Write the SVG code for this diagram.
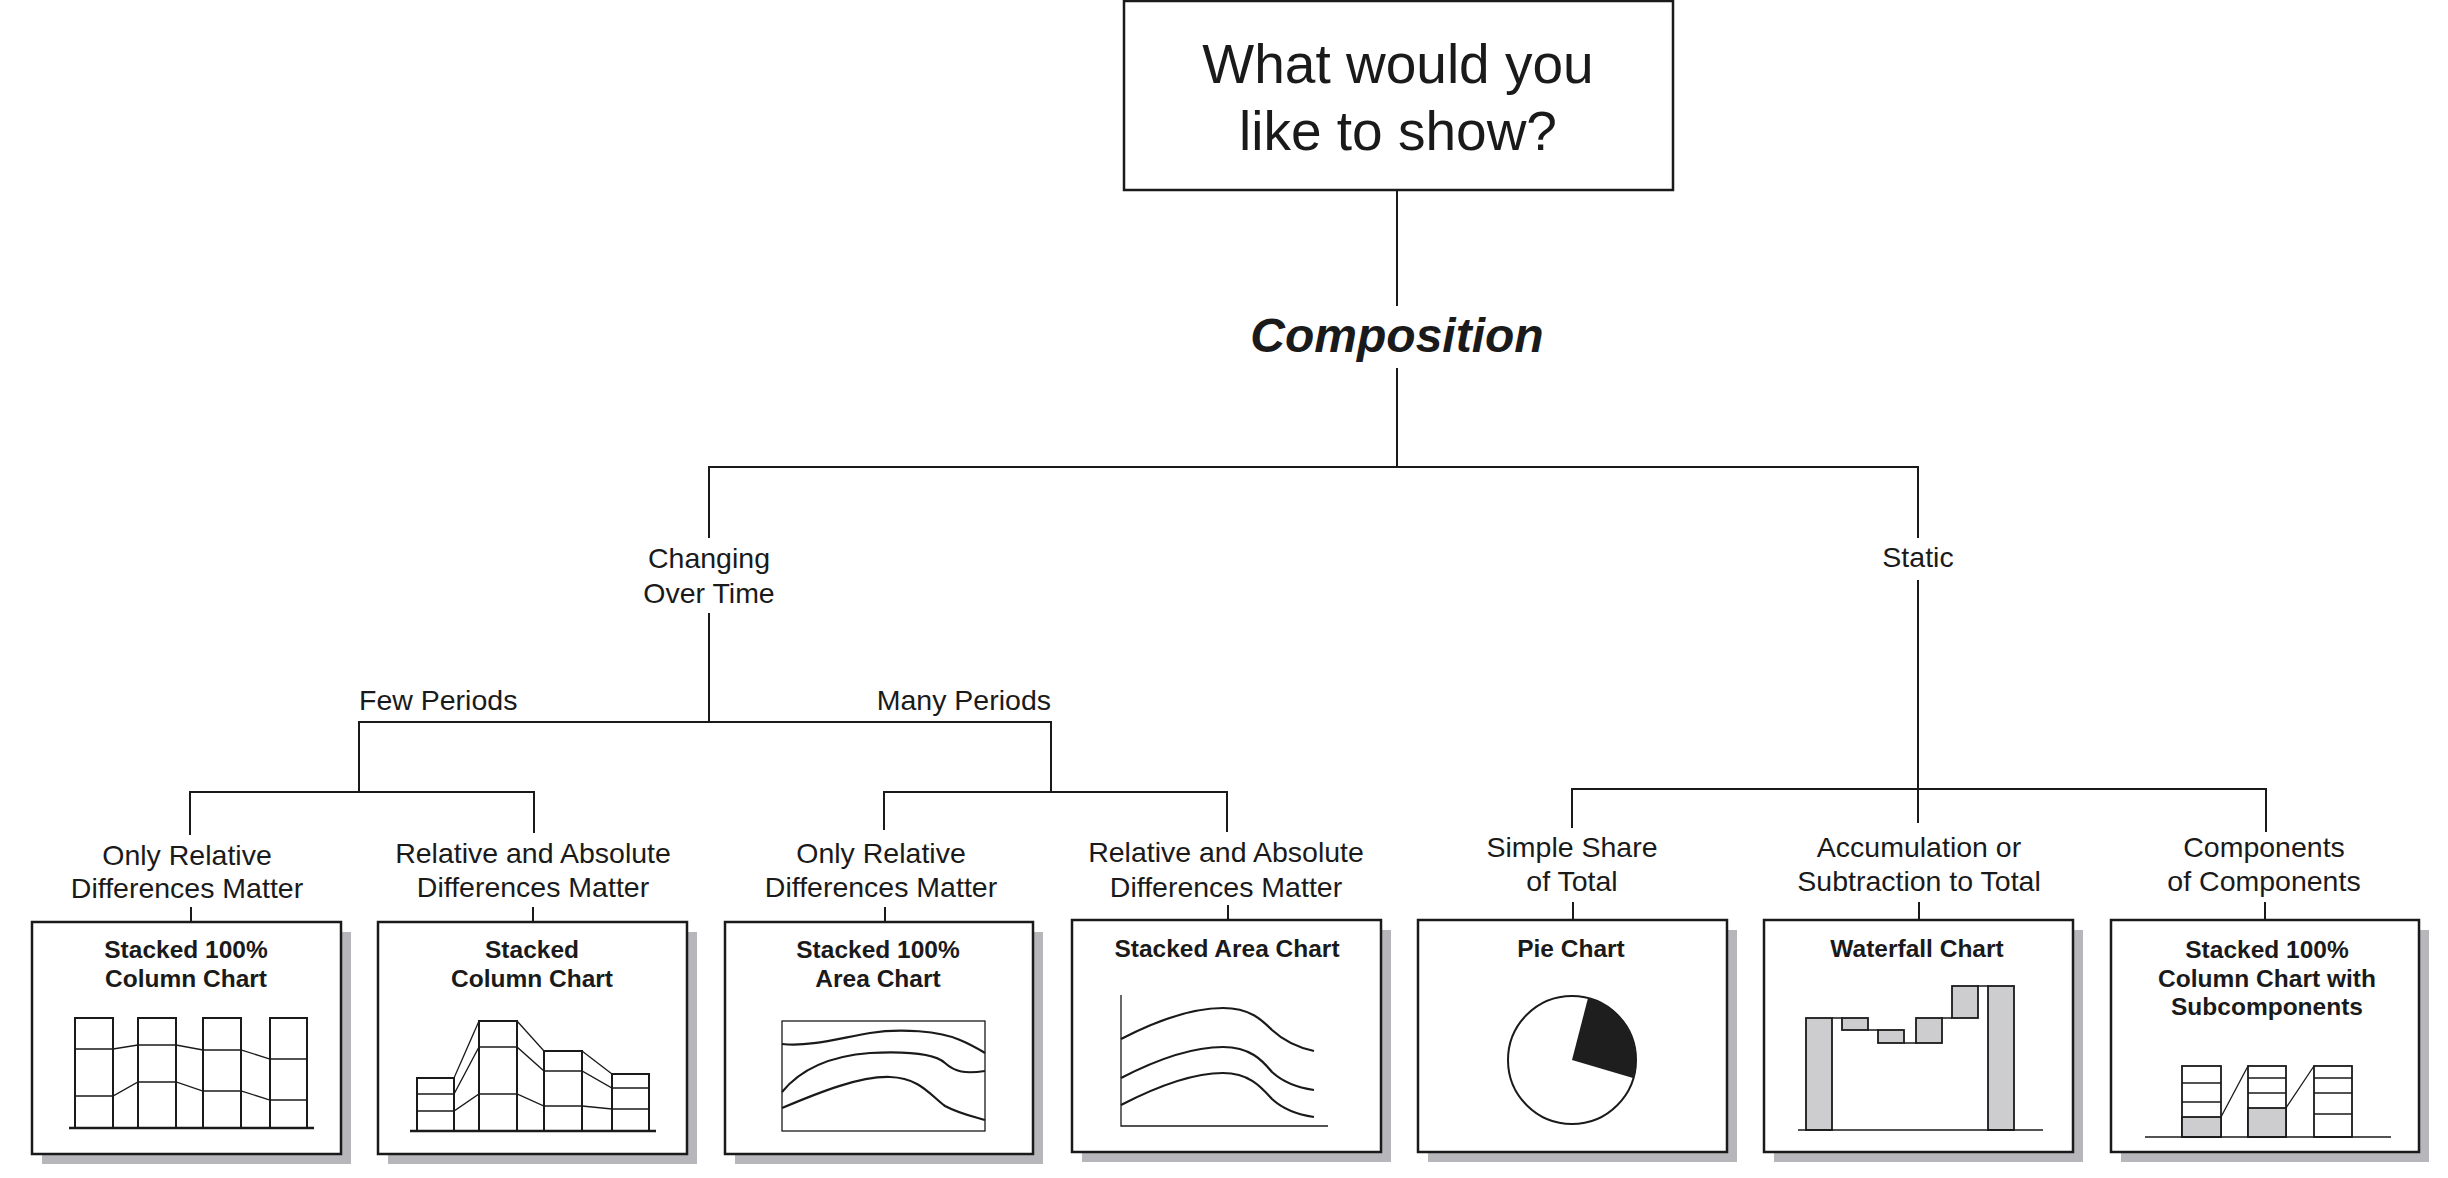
<svg xmlns="http://www.w3.org/2000/svg" width="2448" height="1178" viewBox="0 0 2448 1178">
<style>
text{font-family:"Liberation Sans",Arial,Helvetica,sans-serif;fill:#1a1a1a;text-anchor:middle}
.lbl{font-size:28.5px}
.ttl{font-size:24.5px;font-weight:bold}
.head{font-size:55px}
.comp{font-size:48px;font-weight:bold;font-style:italic}
.conn line{stroke:#1a1a1a;stroke-width:2}
.box{fill:#fff;stroke:#1a1a1a;stroke-width:2.5}
.shadow{fill:#b7b7bb}
.ch{fill:none;stroke:#1a1a1a;stroke-width:2}
.thin{fill:none;stroke:#1a1a1a;stroke-width:1.3}
.cv{fill:none;stroke:#1a1a1a;stroke-width:2.2}
.gr{fill:#cdcdd0;stroke:#1a1a1a;stroke-width:1.8}
.wh{fill:#fff;stroke:#1a1a1a;stroke-width:1.8}
.axis{stroke:#1a1a1a;stroke-width:2.5}
</style>
<rect width="2448" height="1178" fill="#fff"/>

<g id="connectors" class="conn">
<line x1="1397" y1="190" x2="1397" y2="306"/>
<line x1="1397" y1="368" x2="1397" y2="467"/>
<line x1="708" y1="467" x2="1919" y2="467"/>
<line x1="709" y1="467" x2="709" y2="538"/>
<line x1="1918" y1="467" x2="1918" y2="538"/>
<line x1="709" y1="613" x2="709" y2="722"/>
<line x1="358" y1="722" x2="1052" y2="722"/>
<line x1="359" y1="722" x2="359" y2="792"/>
<line x1="1051" y1="722" x2="1051" y2="792"/>
<line x1="189" y1="792" x2="535" y2="792"/>
<line x1="190" y1="792" x2="190" y2="835"/>
<line x1="534" y1="792" x2="534" y2="833"/>
<line x1="883" y1="792" x2="1228" y2="792"/>
<line x1="884" y1="792" x2="884" y2="830"/>
<line x1="1227" y1="792" x2="1227" y2="832"/>
<line x1="1918" y1="580" x2="1918" y2="823"/>
<line x1="1571" y1="789" x2="2267" y2="789"/>
<line x1="1572" y1="789" x2="1572" y2="828"/>
<line x1="2266" y1="789" x2="2266" y2="832"/>
<line x1="191" y1="907" x2="191" y2="922"/>
<line x1="533" y1="907" x2="533" y2="922"/>
<line x1="885" y1="907" x2="885" y2="922"/>
<line x1="1228" y1="905" x2="1228" y2="920"/>
<line x1="1573" y1="902" x2="1573" y2="920"/>
<line x1="1919" y1="902" x2="1919" y2="920"/>
<line x1="2265" y1="902" x2="2265" y2="920"/>
</g>

<g id="root">
<rect class="box" x="1124" y="1" width="549" height="189" stroke-width="2"/>
<text class="head" x="1398" y="83">What would you</text>
<text class="head" x="1398" y="150">like to show?</text>
</g>

<g id="composition">
<text class="comp" x="1397" y="352">Composition</text>
</g>

<g id="changing">
<text class="lbl" x="709" y="568">Changing</text>
<text class="lbl" x="709" y="603">Over Time</text>
</g>

<g id="static">
<text class="lbl" x="1918" y="567">Static</text>
</g>

<g id="few-periods">
<text class="lbl" x="359" y="710" style="text-anchor:start">Few Periods</text>
</g>

<g id="many-periods">
<text class="lbl" x="1051" y="710" style="text-anchor:end">Many Periods</text>
</g>

<g id="stacked100-column">
<text class="lbl" x="187" y="865">Only Relative</text>
<text class="lbl" x="187" y="898">Differences Matter</text>
<rect class="shadow" x="42" y="932" width="309" height="232"/>
<rect class="box" x="32" y="922" width="309" height="232"/>
<text class="ttl" x="186" y="958">Stacked 100%</text>
<text class="ttl" x="186" y="987">Column Chart</text>
<rect class="ch" x="75" y="1018" width="38" height="110"/>
<rect class="ch" x="138" y="1018" width="38" height="110"/>
<rect class="ch" x="203" y="1018" width="38" height="110"/>
<rect class="ch" x="270" y="1018" width="37" height="110"/>
<polyline class="thin" points="75,1049 113,1049 138,1045 176,1045 203,1050 241,1050 270,1059 307,1059"/>
<polyline class="thin" points="75,1096 113,1096 138,1082 176,1082 203,1091 241,1091 270,1100 307,1100"/>
<line class="axis" x1="69" y1="1128" x2="314" y2="1128"/>
</g>

<g id="stacked-column">
<text class="lbl" x="533" y="863">Relative and Absolute</text>
<text class="lbl" x="533" y="897">Differences Matter</text>
<rect class="shadow" x="388" y="932" width="309" height="232"/>
<rect class="box" x="378" y="922" width="309" height="232"/>
<text class="ttl" x="532" y="958">Stacked</text>
<text class="ttl" x="532" y="987">Column Chart</text>
<rect class="ch" x="417" y="1078" width="37" height="53"/>
<rect class="ch" x="479" y="1021" width="38" height="110"/>
<rect class="ch" x="544" y="1051" width="38" height="80"/>
<rect class="ch" x="612" y="1074" width="37" height="57"/>
<polyline class="thin" points="454,1078 479,1021"/>
<polyline class="thin" points="517,1021 544,1051"/>
<polyline class="thin" points="582,1051 612,1074"/>
<polyline class="thin" points="417,1094 454,1094 479,1047 517,1047 544,1071 582,1071 612,1088 649,1088"/>
<polyline class="thin" points="417,1111 454,1111 479,1094 517,1094 544,1106 582,1106 612,1109 649,1109"/>
<line class="axis" x1="410" y1="1131" x2="656" y2="1131"/>
</g>

<g id="stacked100-area">
<text class="lbl" x="881" y="863">Only Relative</text>
<text class="lbl" x="881" y="897">Differences Matter</text>
<rect class="shadow" x="735" y="932" width="308" height="232"/>
<rect class="box" x="725" y="922" width="308" height="232"/>
<text class="ttl" x="878" y="958">Stacked 100%</text>
<text class="ttl" x="878" y="987">Area Chart</text>
<rect class="thin" x="782" y="1021" width="203" height="110"/>
<path class="cv" d="M782,1044 C810,1047 840,1038 870,1033 C900,1028 940,1031 960,1040 C972,1045 980,1050 985,1053"/>
<path class="cv" d="M782,1092 C800,1070 830,1056 870,1053 C910,1051 935,1054 945,1063 C955,1072 965,1074 985,1071"/>
<path class="cv" d="M782,1108 C820,1092 860,1076 890,1077 C920,1078 930,1095 945,1106 C960,1114 975,1117 985,1120"/>
</g>

<g id="stacked-area">
<text class="lbl" x="1226" y="862">Relative and Absolute</text>
<text class="lbl" x="1226" y="897">Differences Matter</text>
<rect class="shadow" x="1082" y="930" width="309" height="232"/>
<rect class="box" x="1072" y="920" width="309" height="232"/>
<text class="ttl" x="1227" y="957">Stacked Area Chart</text>
<path class="thin" d="M1121,995 V1126 H1328"/>
<path class="cv" d="M1121,1039 C1150,1024 1190,1008 1223,1008 C1250,1008 1262,1020 1272,1030 C1285,1042 1300,1048 1314,1051"/>
<path class="cv" d="M1121,1078 C1150,1063 1190,1047 1223,1047 C1250,1047 1262,1060 1272,1072 C1285,1084 1300,1088 1314,1090"/>
<path class="cv" d="M1121,1105 C1150,1090 1190,1073 1223,1073 C1250,1073 1262,1088 1272,1099 C1285,1111 1300,1115 1314,1117"/>
</g>

<g id="pie">
<text class="lbl" x="1572" y="857">Simple Share</text>
<text class="lbl" x="1572" y="891">of Total</text>
<rect class="shadow" x="1428" y="930" width="309" height="232"/>
<rect class="box" x="1418" y="920" width="309" height="232"/>
<text class="ttl" x="1571" y="957">Pie Chart</text>
<circle cx="1572" cy="1060" r="64" fill="#fff" stroke="#1a1a1a" stroke-width="2"/>
<path d="M1572,1060 L1588,998 A64,64 0 0,1 1633,1078 Z" fill="#1e1e1e"/>
</g>

<g id="waterfall">
<text class="lbl" x="1919" y="857">Accumulation or</text>
<text class="lbl" x="1919" y="891">Subtraction to Total</text>
<rect class="shadow" x="1774" y="930" width="309" height="232"/>
<rect class="box" x="1764" y="920" width="309" height="232"/>
<text class="ttl" x="1917" y="957">Waterfall Chart</text>
<rect class="gr" x="1806" y="1018" width="26" height="112"/>
<rect class="gr" x="1842" y="1018" width="26" height="12"/>
<rect class="gr" x="1878" y="1030" width="26" height="13"/>
<rect class="gr" x="1916" y="1018" width="26" height="25"/>
<rect class="gr" x="1952" y="986" width="26" height="32"/>
<rect class="gr" x="1988" y="986" width="26" height="144"/>
<path class="thin" d="M1832,1018 H1842 M1868,1030 H1878 M1904,1043 H1916 M1942,1018 H1952 M1978,986 H1988"/>
<line class="thin" x1="1798" y1="1130" x2="2043" y2="1130" stroke-width="1.5"/>
</g>

<g id="stacked100-sub">
<text class="lbl" x="2264" y="857">Components</text>
<text class="lbl" x="2264" y="891">of Components</text>
<rect class="shadow" x="2121" y="930" width="308" height="232"/>
<rect class="box" x="2111" y="920" width="308" height="232"/>
<text class="ttl" x="2267" y="958">Stacked 100%</text>
<text class="ttl" x="2267" y="987">Column Chart with</text>
<text class="ttl" x="2267" y="1015">Subcomponents</text>
<rect class="wh" x="2182" y="1066" width="39" height="71"/>
<rect class="gr" x="2182" y="1117" width="39" height="20"/>
<path class="thin" d="M2182,1083 H2221 M2182,1102 H2221"/>
<rect class="wh" x="2248" y="1066" width="38" height="71"/>
<rect class="gr" x="2248" y="1108" width="38" height="29"/>
<path class="thin" d="M2248,1078 H2286 M2248,1093 H2286"/>
<rect class="wh" x="2314" y="1066" width="38" height="71"/>
<path class="thin" d="M2314,1078 H2352 M2314,1093 H2352 M2314,1114 H2352"/>
<path class="thin" d="M2221,1117 L2248,1066 M2286,1108 L2314,1066"/>
<line class="thin" x1="2145" y1="1137" x2="2391" y2="1137" stroke-width="1.5"/>
</g>
</svg>
